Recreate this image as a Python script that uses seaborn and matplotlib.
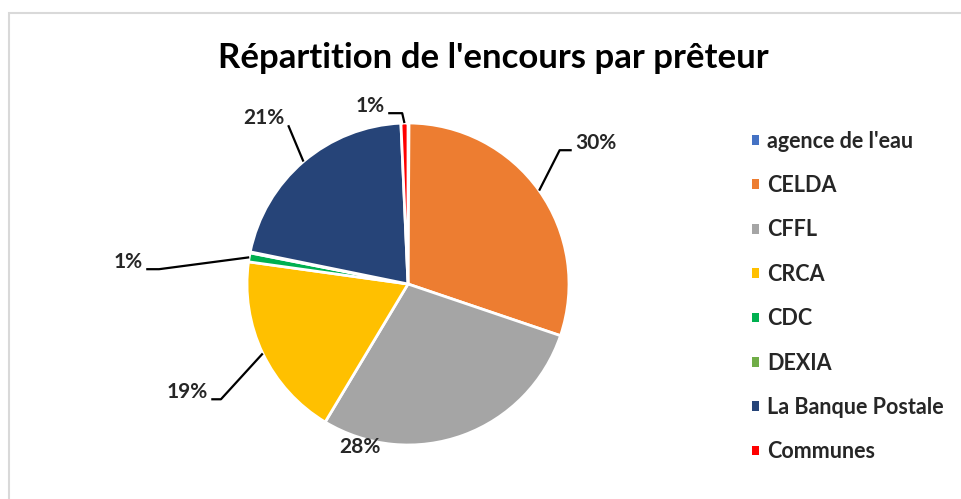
import numpy as np
import matplotlib
matplotlib.use("Agg")
import matplotlib.pyplot as plt
from matplotlib.patches import Rectangle, Patch
import seaborn as sns

preteurs = ["agence de l'eau", "CELDA", "CFFL", "CRCA", "CDC", "DEXIA",
            "La Banque Postale", "Communes"]
parts = [0.1, 30.1, 28.4, 18.6, 0.9, 0.1, 21.1, 0.7]
etiquettes = ["", "30%", "28%", "19%", "1%", "", "21%", "1%"]
couleurs = ["#4472C4", "#ED7D31", "#A5A5A5", "#FFC000", "#00B050", "#70AD47",
            "#264478", "#FF0000"]

# position des etiquettes (unites du rayon), alignement, longueur du coude
pos_etiq = {
    1: (1.037, 0.876, "left", 0.075),
    2: (-0.298, -1.012, "center", None),
    3: (-1.242, -0.671, "right", 0.06),
    4: (-1.646, 0.137, "right", 0.08),
    6: (-0.764, 1.031, "right", 0.0),
    7: (-0.143, 1.106, "right", 0.087),
}

sns.set_theme(style="white")
plt.rcParams["font.family"] = ["Lato", "DejaVu Sans"]

fig = plt.figure(figsize=(9.61, 4.99), dpi=100)
ax = fig.add_axes([0, 0, 1, 1])

wedges, _ = ax.pie(parts, colors=couleurs, startangle=90, counterclock=False,
                   wedgeprops=dict(edgecolor="white", linewidth=2))

# echelle : 161 px par unite, centre a (408, 284) px
r = 161
ax.set_aspect("auto")
ax.set_xlim(-408 / r, (961 - 408) / r)
ax.set_ylim(-(499 - 284) / r, 284 / r)
ax.axis("off")

for i, (tx, ty, ha, coude) in pos_etiq.items():
    w = wedges[i]
    mid = np.deg2rad((w.theta1 + w.theta2) / 2)
    ex, ey = np.cos(mid), np.sin(mid)
    ax.text(tx, ty, etiquettes[i], ha=ha, va="center", fontsize=15,
            fontweight="bold", color="#262626")
    if coude is None:
        continue
    sens = -1 if ha == "left" else 1
    ax_x = tx + sens * 0.02
    ax_y = ty - 0.045
    el_x = ax_x + sens * coude
    ax.plot([ax_x, el_x, ex], [ax_y, ax_y, ey], color="black", lw=1.6,
            clip_on=False, solid_capstyle="butt")

fig.text(493 / 961, 1 - 58 / 499, "Répartition de l'encours par prêteur",
         ha="center", va="center", fontsize=25, fontweight="bold",
         color="black")

handles = [Patch(facecolor=c, edgecolor="none") for c in couleurs]
leg = fig.legend(handles, preteurs, loc="upper left",
                 bbox_to_anchor=(741 / 961, 1 - 120 / 499), frameon=False,
                 fontsize=15.5, handlelength=0.33, handleheight=0.33,
                 handletextpad=0.4, labelspacing=1.085, borderpad=0)
for t in leg.get_texts():
    t.set_fontweight("bold")
    t.set_color("#262626")

fig.patches.append(Rectangle((9 / 961, -0.1), 1.2, 1 - 13 / 499 + 0.1,
                             transform=fig.transFigure, fill=False,
                             edgecolor="#D9D9D9", lw=1.5))

fig.savefig("out.png", dpi=100)
